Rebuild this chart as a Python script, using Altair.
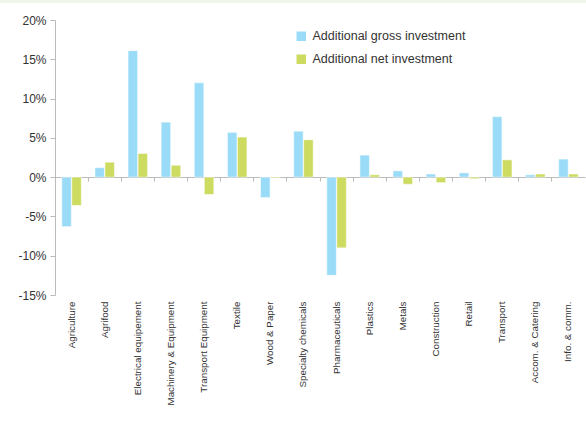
import altair as alt
import pandas as pd

categories = ["Agriculture", "Agrifood", "Electrical equipement", "Machinery & Equipment",
              "Transport Equipment", "Textile", "Wood & Paper", "Specialty chemicals",
              "Pharmaceuticals", "Plastics", "Metals", "Construction", "Retail",
              "Transport", "Accom. & Catering", "Info. & comm."]
gross = [-6.3, 1.2, 16.1, 7.0, 12.0, 5.7, -2.6, 5.85, -12.5, 2.8, 0.8, 0.4, 0.55, 7.7, 0.3, 2.3]
net = [-3.6, 1.9, 3.0, 1.5, -2.2, 5.1, -0.1, 4.75, -9.0, 0.3, -0.9, -0.7, -0.2, 2.2, 0.4, 0.4]
series = ["Additional gross investment", "Additional net investment"]
colors = ["#9ADCF8", "#CDDB60"]
y_ticks = [-15, -10, -5, 0, 5, 10, 15, 20]

rows = []
for c, g, n in zip(categories, gross, net):
    rows.append({"cat": c, "series": series[0], "v": g / 100})
    rows.append({"cat": c, "series": series[1], "v": n / 100})
df = pd.DataFrame(rows)

FONT = "Liberation Sans, Arial, sans-serif"

xscale = alt.Scale(domain=categories, paddingInner=0, paddingOuter=0)
yscale = alt.Scale(domain=[-0.15, 0.20], nice=False)

bars = alt.Chart(df).mark_bar(stroke="white", strokeWidth=0.5).encode(
    x=alt.X("cat:N", sort=categories, scale=xscale, title=None,
            axis=alt.Axis(labelAngle=-90, domain=False, ticks=False, labelPadding=6,
                          labelFont=FONT, labelFontSize=9.8, labelColor="#333333", labelLimit=0)),
    xOffset=alt.XOffset("series:N", scale=alt.Scale(domain=series, paddingInner=0.05, paddingOuter=0.68)),
    y=alt.Y("v:Q", scale=yscale, title=None,
            axis=alt.Axis(values=[t / 100 for t in y_ticks], grid=False,
                          labelExpr="datum.value < 0 ? '-' + format(-datum.value, '.0%') : format(datum.value, '.0%')",
                          domainColor="#BBBBBB", tickColor="#BBBBBB", tickSize=5,
                          labelFont=FONT, labelFontSize=12, labelColor="#333333", labelPadding=4)),
    color=alt.Color("series:N", scale=alt.Scale(domain=series, range=colors),
                    legend=alt.Legend(title=None, orient="none", legendX=240, legendY=10,
                                      symbolType="square", symbolSize=90, symbolStrokeWidth=0,
                                      labelFont=FONT, labelFontSize=12.5, labelColor="#333333",
                                      labelLimit=0, rowPadding=10, labelOffset=5)),
)

zero = alt.Chart(pd.DataFrame({"cat": categories})).mark_tick(opacity=0).encode(
    x=alt.X("cat:N", sort=categories, scale=xscale, title=None,
            axis=alt.Axis(orient="bottom", offset=-118, labels=False, bandPosition=0,
                          domainColor="#BBBBBB", tickColor="#BBBBBB", tickSize=4)),
)

strip = alt.Chart(pd.DataFrame({"a": [0]})).mark_rect(color="#EEF6EC").encode(
    x=alt.value(-55), x2=alt.value(531), y=alt.value(-20), y2=alt.value(-17)
)

chart = alt.layer(strip, bars, zero).resolve_axis(x="independent").properties(
    width=530, height=275,
    autosize=alt.AutoSizeParams(type="none"),
    padding={"left": 55, "top": 20, "right": 1, "bottom": 133},
).configure_view(stroke=None)

chart.save("out.html", embed_options={"renderer": "svg", "actions": False})
